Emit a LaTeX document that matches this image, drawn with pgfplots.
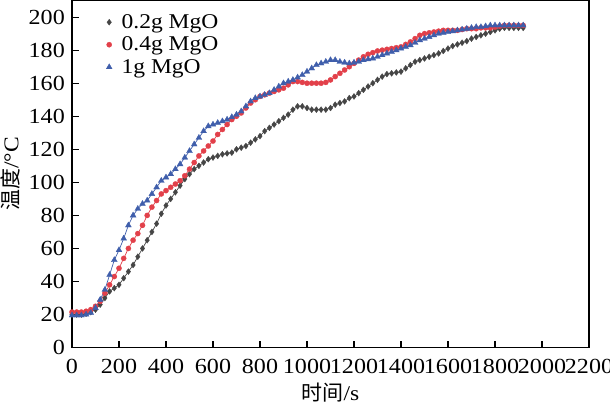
\documentclass[border=0pt]{standalone}
\usepackage{fontspec}
\setmainfont{Liberation Serif}[FakeStretch=1.12]
\newfontfamily\cjk{Noto Sans CJK SC}
\usepackage{pgfplots}
\pgfplotsset{compat=1.18}
\definecolor{cDark}{HTML}{454545}
\definecolor{cRed}{HTML}{E2404A}
\definecolor{cBlue}{HTML}{3F5EAB}
\begin{document}
\begin{tikzpicture}
\begin{axis}[
  scale only axis,
  width=517pt, height=347pt,
  xmin=0, xmax=2200, ymin=0, ymax=210,
  xtick={0,200,...,2200}, ytick={0,20,...,200},
  xtick pos=bottom, ytick pos=left,
  tick align=inside,
  major tick length=7pt,
  axis line style={line width=1.2pt},
  tick style={line width=1.2pt, black},
  /pgf/number format/assume math mode=true,
  /pgf/number format/1000 sep={},
  tick label style={font=\fontsize{21.5}{22}\selectfont},
  xticklabel style={inner sep=1pt, yshift=-10pt},
  yticklabel style={inner sep=1pt, xshift=-6pt},
  xlabel={{\cjk 时间}/s},
  ylabel={{\cjk 温度}/°C},
  label style={font=\fontsize{21}{22}\selectfont},
  xlabel style={yshift=-5pt},
  ylabel style={yshift=4pt},
  legend style={draw=none, fill=none, at={(axis cs:145,202)}, anchor=north west,
    font=\fontsize{21}{21}\selectfont, row sep=6pt, inner sep=0pt,
    nodes={inner sep=0.5pt},
    /tikz/every odd column/.append style={column sep=9pt}},
  legend cell align=left,
  legend image code/.code={\draw[#1, only marks] plot coordinates {(0.12cm,0cm)};},
]
\addplot[color=cDark, line width=0.7pt, mark=diamond*, mark size=3pt, mark options={fill=cDark, draw=cDark, line width=0.3pt}] coordinates {
(0,20) (20,20) (40,20) (60,20.5) (80,21.5) (100,23) (120,26) (140,30) (160,34) (180,36)
(200,38) (220,42) (240,46) (260,50) (280,55) (300,60) (320,65) (340,70) (360,75) (380,81)
(400,86) (420,90) (440,94) (460,98) (480,102) (500,105) (520,108) (540,110) (560,112) (580,114)
(600,115) (620,116) (640,117) (660,117.5) (680,118) (700,120) (720,121) (740,122) (760,124) (780,126)
(800,128) (820,131) (840,133) (860,135) (880,137) (900,139) (920,141) (940,144) (960,146) (980,146)
(1000,145) (1020,144) (1040,144) (1060,144) (1080,144) (1100,145) (1120,147) (1140,148) (1160,149) (1180,151)
(1200,152) (1220,154) (1240,156) (1260,158) (1280,160) (1300,162) (1320,164) (1340,165.5) (1360,166) (1380,166.5)
(1400,167) (1420,169) (1440,171) (1460,173) (1480,174) (1500,175) (1520,176) (1540,177) (1560,178) (1580,179.5)
(1600,181) (1620,182.5) (1640,183.5) (1660,184.5) (1680,185.5) (1700,187) (1720,188) (1740,189) (1760,190) (1780,191)
(1800,192) (1820,193) (1840,193.5) (1860,193.5) (1880,193.5) (1900,193.5) (1920,193.5)
};
\addlegendentry{0.2g MgO}
\addplot[color=cRed, line width=0.7pt, mark=*, mark size=2.6pt, mark options={fill=cRed, draw=cRed, line width=0.3pt}] coordinates {
(0,21.5) (20,21.5) (40,21.5) (60,22) (80,23) (100,25) (120,28) (140,33) (160,38) (180,43)
(200,48) (220,54) (240,60) (260,65) (280,69) (300,74) (320,80) (340,85) (360,89) (380,93)
(400,95) (420,97) (440,99) (460,101) (480,104) (500,108) (520,112) (540,116) (560,119) (580,122)
(600,125) (620,129) (640,132) (660,135) (680,138) (700,140) (720,142) (740,145) (760,148) (780,150)
(800,152) (820,153) (840,154) (860,155) (880,156) (900,157) (920,159) (940,161) (960,161) (980,160.5)
(1000,160) (1020,160) (1040,160) (1060,160) (1080,160.5) (1100,162) (1120,164) (1140,166) (1160,168) (1180,170)
(1200,172) (1220,174) (1240,176) (1260,177.5) (1280,178.5) (1300,179.5) (1320,180) (1340,180.5) (1360,181) (1380,181.5)
(1400,182) (1420,183.5) (1440,185) (1460,187) (1480,189) (1500,190) (1520,190.5) (1540,191) (1560,191.5) (1580,192)
(1600,192) (1620,192) (1640,192) (1660,192.5) (1680,193) (1700,193) (1720,193) (1740,193.5) (1760,193.5) (1780,193.5)
(1800,194) (1820,194.5) (1840,195) (1860,195) (1880,195) (1900,195) (1920,195)
};
\addlegendentry{0.4g MgO}
\addplot[color=cBlue, line width=0.7pt, mark=triangle*, mark size=3.4pt, mark options={fill=cBlue, draw=cBlue, line width=0.3pt}] coordinates {
(0,19.5) (20,19.5) (40,19.5) (60,20) (80,21) (100,24) (120,29) (140,35) (160,44) (180,53)
(200,59) (220,66) (240,74) (260,80) (280,84) (300,87) (320,89) (340,93) (360,97) (380,101)
(400,103) (420,105) (440,108) (460,111) (480,115) (500,119) (520,123) (540,127) (560,131) (580,134)
(600,135) (620,136) (640,137) (660,138) (680,139.5) (700,141) (720,143) (740,146) (760,149) (780,151)
(800,152) (820,153) (840,154) (860,156) (880,158) (900,160) (920,161) (940,162) (960,163.5) (980,165)
(1000,167) (1020,169) (1040,171) (1060,172) (1080,173) (1100,174) (1120,174) (1140,173) (1160,172.5) (1180,172)
(1200,172.5) (1220,173) (1240,174) (1260,174.5) (1280,175) (1300,176) (1320,177) (1340,178) (1360,179) (1380,180)
(1400,181) (1420,182) (1440,183) (1460,184.5) (1480,186) (1500,187) (1520,188) (1540,189) (1560,190) (1580,190.5)
(1600,191) (1620,191.5) (1640,192) (1660,192.5) (1680,193) (1700,193.5) (1720,194) (1740,194) (1760,194.5) (1780,195)
(1800,195) (1820,195) (1840,195) (1860,195) (1880,195) (1900,195) (1920,195)
};
\addlegendentry{1g MgO}
\end{axis}
\pgfresetboundingbox
\path ([xshift=-72pt,yshift=-58pt]current axis.south west) rectangle ([xshift=21pt,yshift=0.6pt]current axis.north east);
\end{tikzpicture}
\end{document}
